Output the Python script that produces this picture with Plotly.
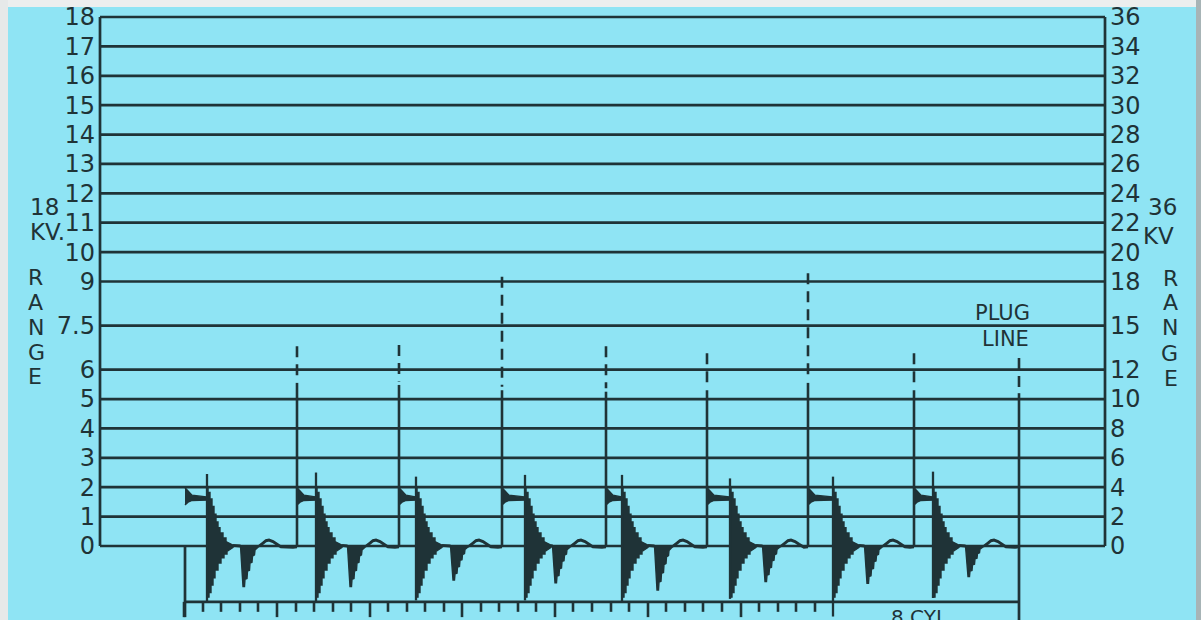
import plotly.graph_objects as go

BG = "#8fe4f4"
INK = "#1f3337"
FONT = "DejaVu Sans"

# ---------------- scale / grid data ----------------
grid_levels = [0, 1, 2, 3, 4, 5, 6, 7.5, 9, 10, 11, 12, 13, 14, 15, 16, 17, 18]
left_ticktext = ["0", "1", "2", "3", "4", "5", "6", "7.5", "9", "10", "11",
                 "12", "13", "14", "15", "16", "17", "18"]
right_tickvals = [0, 2, 4, 6, 8, 10, 12, 15, 18, 20, 22, 24, 26, 28, 30, 32, 34, 36]
right_ticktext = [str(v) for v in right_tickvals]

grid_x = [100, 1105]          # horizontal extent of the scale grid (time units)

# ---------------- waveform data (8 cylinders) ----------------
flag_start_x = [185, 297, 399, 502, 606, 707, 808, 914]
firing_x = [297, 399, 502, 606, 707, 808, 914, 1019]
firing_solid_top = [5.55, 5.48, 5.30, 5.25, 5.30, 5.55, 5.30, 5.20]
firing_dashed_top = [6.80, 6.84, 9.16, 6.80, 6.56, 9.28, 6.56, 6.40]
spike_x = [207, 316, 416, 525, 622, 730, 833, 933]
spike_top = [2.45, 2.50, 2.36, 2.42, 2.42, 2.30, 2.36, 2.53]
spike_bottom = [-1.94, -1.90, -1.85, -1.85, -1.90, -1.80, -2.40, -1.77]
dip_x = [243, 350, 453, 555, 657, 765, 867, 968]
dip_bottom = [-1.38, -1.38, -1.16, -1.25, -1.50, -1.21, -1.27, -1.04]

# oscillation burst outline (offset from spike, kV)
burst_upper_dx = [0, 1, 1, 3, 3, 5, 5, 7, 7, 9, 9, 11, 11, 13, 13, 16, 16, 19, 19, 23, 26]
burst_upper_y = [1.95, 1.95, 1.82, 1.82, 1.60, 1.60, 1.35, 1.35, 1.08, 1.08, 0.82, 0.82,
                 0.62, 0.62, 0.44, 0.44, 0.27, 0.27, 0.15, 0.08, 0.03]
burst_lower_dx = [26, 23, 20, 20, 17, 17, 14, 14, 11, 11, 8, 8, 6, 6, 4, 4, 2, 2, 0]
burst_lower_y = [-0.05, -0.11, -0.18, -0.27, -0.27, -0.40, -0.40, -0.58, -0.58, -0.82,
                 -0.82, -1.08, -1.08, -1.33, -1.33, -1.58, -1.58, -1.74, -1.74]

# second (coil) dip outline: offset from dip, fraction of dip depth
dip_dx = [-2.5, -1, 0, 1.5, 2, 4, 4.5, 6.5, 7, 9, 9.5, 11.5, 12, 15, 17]
dip_frac = [0.0, 0.6, 1.0, 1.0, 0.82, 0.80, 0.62, 0.60, 0.42, 0.40, 0.25, 0.22, 0.10, 0.03, 0.0]

# small ripple after the dip: offset from dip, kV
bump_dx = [17, 20, 23, 26, 30, 34, 38]
bump_y = [0.02, 0.10, 0.18, 0.20, 0.15, 0.06, -0.03]

# spark-line pennant: offsets from flag start, kV (top edge then bottom edge)
flag_dx = [0, 3, 7, None, None, 7, 3, 0]      # None -> ends at the spike
flag_y = [1.98, 1.86, 1.73, 1.67, 1.56, 1.55, 1.49, 1.40]

# lower (below-zero) frame and its tick marks
base_level = -1.90
base_x = [184, 1019]
frame_bottom_left = -2.42
frame_bottom_right = -2.52
tick_x = [184, 203, 221, 240, 258, 277, 296, 314, 333, 351, 370, 388, 407, 425,
          444, 462, 481, 499, 518, 536, 555, 573, 592, 611, 629, 648, 666, 685,
          703, 722, 741, 759, 778, 796, 815]
major_tick_x = [184, 277, 370, 462, 555, 648, 741]
minor_tick_len = 0.34
major_tick_len = 0.52

fig = go.Figure()


def seg_trace(xs, ys, width=2.6, dash=None, yaxis="y"):
    ln = dict(color=INK, width=width)
    if dash:
        ln["dash"] = dash
    fig.add_trace(go.Scatter(x=xs, y=ys, mode="lines", line=ln, yaxis=yaxis,
                             hoverinfo="skip", showlegend=False))


def fill_trace(xs, ys):
    fig.add_trace(go.Scatter(x=xs, y=ys, mode="lines", fill="toself", fillcolor=INK,
                             line=dict(color=INK, width=1.4), hoverinfo="skip",
                             showlegend=False))


# grid
gx, gy = [], []
for lv in grid_levels:
    gx += [grid_x[0], grid_x[1], None]
    gy += [lv, lv, None]
seg_trace(gx, gy, width=2.7)

# scale frame verticals
seg_trace([grid_x[0], grid_x[0]], [grid_levels[0], grid_levels[-1]], width=2.7)
seg_trace([grid_x[1], grid_x[1]], [right_tickvals[0], right_tickvals[-1]], width=2.7, yaxis="y2")

# lower frame
seg_trace([base_x[0], base_x[1]], [base_level, base_level], width=2.6)
seg_trace([flag_start_x[0], flag_start_x[0]], [0, frame_bottom_left], width=2.7)
seg_trace([firing_x[-1], firing_x[-1]], [0, frame_bottom_right], width=2.7)
tx, ty = [], []
for t in tick_x:
    ln = major_tick_len if t in major_tick_x else minor_tick_len
    tx += [t, t, None]
    ty += [base_level, base_level - ln, None]
seg_trace(tx, ty, width=2.6)

# waveform
n = len(spike_x)
for i in range(n):
    F0 = flag_start_x[i]
    S = spike_x[i]
    D = dip_x[i]
    Fn = firing_x[i]

    # spark (flag) line
    fx = [(S - 1) if d is None else F0 + d for d in flag_dx]
    fill_trace(fx, flag_y)

    # oscillation burst
    bx = [S + d for d in burst_upper_dx] + [S + d for d in burst_lower_dx]
    by = burst_upper_y + burst_lower_y
    fill_trace(bx, by)
    seg_trace([S, S], [spike_top[i], spike_bottom[i]], width=2.3)

    # second dip
    fill_trace([D + d for d in dip_dx], [f * dip_bottom[i] for f in dip_frac])

    # trace between burst, dip, ripple and next firing line
    seg_trace([S + 26, D + dip_dx[0]], [0.02, 0.0], width=2.9)
    lx2 = [D + dip_dx[-1]] + [D + d for d in bump_dx] + [Fn - 4, Fn]
    ly2 = [0.0] + bump_y + [-0.04, -0.03]
    seg_trace(lx2, ly2, width=2.9)

# firing lines (solid part + dashed extension)
for i in range(len(firing_x)):
    x = firing_x[i]
    seg_trace([x, x], [-0.03, firing_solid_top[i]], width=2.6)
    seg_trace([x, x], [firing_dashed_top[i], firing_solid_top[i] + 0.12], width=2.6,
              dash="11px,7px")

# ---------------- layout ----------------
W, H = 1201, 620
ML, MR, MT, MB = 96, 92, 7, 0
PX_PER_KV = 529 / 18.0
y_top = (546 - MT) / PX_PER_KV
y_bot = -(H - MB - 546) / PX_PER_KV


def px(xp):
    return (xp - ML) / (W - ML - MR)


def py(yp):
    return (H - MB - yp) / (H - MT - MB)


tickfont = dict(family=FONT, size=24, color=INK)
fig.update_layout(
    width=W, height=H,
    margin=dict(l=ML, r=MR, t=MT, b=MB, pad=0),
    paper_bgcolor=BG, plot_bgcolor=BG,
    showlegend=False, hovermode=False,
    xaxis=dict(range=[ML, W - MR], visible=False, fixedrange=True),
    yaxis=dict(range=[y_bot, y_top], tickmode="array", tickvals=grid_levels,
               ticktext=left_ticktext, showgrid=False, zeroline=False, showline=False,
               ticks="", tickfont=tickfont, fixedrange=True),
    yaxis2=dict(range=[2 * y_bot, 2 * y_top], overlaying="y", side="right",
                tickmode="array", tickvals=right_tickvals, ticktext=right_ticktext,
                showgrid=False, zeroline=False, showline=False, ticks="",
                tickfont=tickfont, fixedrange=True),
)

ann = []
lab = dict(family=FONT, size=23, color=INK)
ann.append(dict(text="18", x=px(28), y=py(192), xref="paper", yref="paper",
                showarrow=False, font=lab))
ann.append(dict(text="KV.", x=px(28), y=py(232), xref="paper", yref="paper",
                showarrow=False, font=lab))
for ch, yy in zip("RANGE", [277, 302, 327, 352, 377]):
    ann.append(dict(text=ch, x=px(26), y=py(yy), xref="paper", yref="paper",
                    showarrow=False, font=dict(family=FONT, size=22, color=INK)))
ann.append(dict(text="36", x=px(1179), y=py(192), xref="paper", yref="paper",
                showarrow=False, font=lab))
ann.append(dict(text="KV", x=px(1176), y=py(236), xref="paper", yref="paper",
                showarrow=False, font=lab))
for ch, yy in zip("RANGE", [278, 302, 327, 353, 378]):
    ann.append(dict(text=ch, x=px(1180), y=py(yy), xref="paper", yref="paper",
                    showarrow=False, font=dict(family=FONT, size=22, color=INK)))
small = dict(family=FONT, size=21, color=INK)
ann.append(dict(text="PLUG", x=px(1032), y=py(313), xref="paper", yref="paper",
                showarrow=False, font=small))
ann.append(dict(text="LINE", x=px(1031), y=py(339), xref="paper", yref="paper",
                showarrow=False, font=small))
ann.append(dict(text="8 CYL", x=px(950), y=py(603), xref="paper", yref="paper",
                yanchor="top", showarrow=False, font=dict(family=FONT, size=20, color=INK)))
fig.update_layout(annotations=ann)

# photo frame edges
fig.update_layout(shapes=[
    dict(type="rect", xref="paper", yref="paper", x0=px(-5), x1=px(1210), y0=py(7), y1=py(-5),
         fillcolor="#eceeee", line=dict(width=0), layer="above"),
    dict(type="rect", xref="paper", yref="paper", x0=px(-5), x1=px(8), y0=py(630), y1=py(-5),
         fillcolor="#e6e9e9", line=dict(width=0), layer="above"),
    dict(type="rect", xref="paper", yref="paper", x0=px(1196), x1=px(1210), y0=py(630), y1=py(-5),
         fillcolor="#a7b4b6", line=dict(width=0), layer="above"),
])

fig.write_html(
    "out.html",
    config={"displayModeBar": False},
    post_script="document.body.style.margin='0';document.body.style.overflow='hidden';",
)
